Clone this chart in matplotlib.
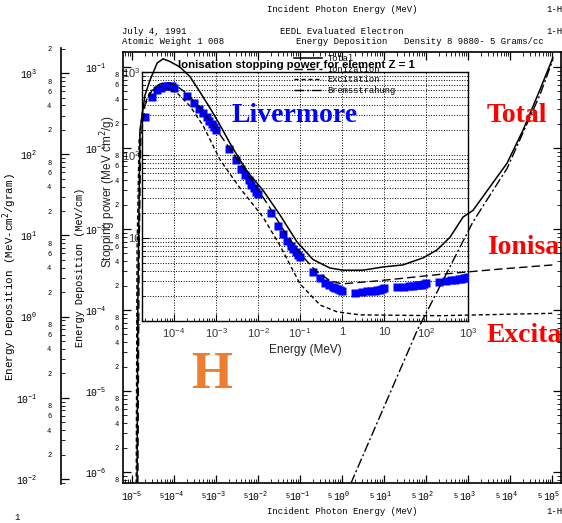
import numpy as np
import matplotlib.pyplot as plt
from matplotlib.ticker import LogLocator, FuncFormatter, NullFormatter

plt.rcParams['font.family'] = 'Liberation Mono'

W, H = 562, 523

# EEDL energy deposition for hydrogen, MeV vs MeV/cm
tot_e = [1.32e-5, 1.38e-5, 1.55e-5, 2.04e-5, 2.69e-5, 3.98e-5, 5.5e-5, 7.94e-5, 1.38e-4,
         2.4e-4, 4.17e-4, 7.24e-4, 1.26e-3, 2.14e-3, 3.72e-3, 5.75e-3, 1.32e-2, 3.31e-2,
         8.51e-2, 0.204, 0.513, 1.05, 3.16, 9.55, 28.2, 85.1, 182, 372, 759, 1318, 3311,
         8511, 20417, 51286, 104713]
tot_v = [7.2e-7, 1.3e-4, 1.66e-2, 4.5e-2, 6.9e-2, 0.112, 0.126, 0.117, 0.1,
         7.6e-2, 4.9e-2, 3.1e-2, 1.9e-2, 1.15e-2, 7.1e-3, 5.0e-3, 3.0e-3, 1.5e-3,
         6.9e-4, 4.2e-4, 3.3e-4, 3.1e-4, 3.1e-4, 3.4e-4, 3.6e-4, 4.4e-4, 5.5e-4, 7.9e-4,
         1.4e-3, 1.7e-3, 3.3e-3, 6.5e-3, 1.66e-2, 5.2e-2, 0.13]

ion_e = [1.38e-5, 1.48e-5, 1.62e-5, 2.04e-5, 3.02e-5, 4.68e-5, 7.24e-5, 1.12e-4, 1.82e-4,
         3.16e-4, 5.5e-4, 9.55e-4, 1.95e-3, 3.72e-3, 8.51e-3, 1.95e-2, 4.37e-2, 0.1,
         0.229, 0.513, 1.0, 7.94, 214, 5754, 104713]
ion_v = [7.2e-7, 5.5e-4, 1.26e-2, 3.4e-2, 5.2e-2, 6.2e-2, 6.3e-2, 5.9e-2, 4.9e-2,
         3.7e-2, 2.6e-2, 1.78e-2, 1.05e-2, 6.5e-3, 3.5e-3, 1.8e-3, 9.1e-4, 5.0e-4,
         3.1e-4, 2.3e-4, 2.1e-4, 2.3e-4, 2.75e-4, 3.2e-4, 3.6e-4]

exc_e = [1.26e-5, 1.32e-5, 1.48e-5, 1.82e-5, 2.69e-5, 3.98e-5, 6.17e-5, 1.17e-4, 2.4e-4,
         4.9e-4, 7.94e-4, 1.26e-3, 3.72e-3, 1.32e-2, 3.31e-2, 0.1, 0.302, 0.759, 2.69,
         214, 104713]
exc_v = [7.2e-7, 5.5e-4, 1.26e-2, 3.1e-2, 4.9e-2, 5.6e-2, 5.6e-2, 4.8e-2, 3.3e-2,
         1.9e-2, 1.15e-2, 7.1e-3, 3.2e-3, 1.4e-3, 6.3e-4, 2.1e-4, 1.15e-4, 9.5e-5, 8.7e-5,
         8.5e-5, 9.1e-5]

brem_e = [1.62, 61.7, 182, 1318, 8511, 51286, 104713]
brem_v = [7.2e-7, 5.6e-5, 1.66e-4, 1.23e-3, 5.6e-3, 4.5e-2, 0.123]

# Livermore ionisation stopping power, MeV vs MeV cm2/g
liv_e = [2e-5, 3e-5, 4e-5, 5e-5, 6e-5, 7e-5, 8e-5, 9e-5,
         1e-4, 2e-4, 3e-4, 4e-4, 5e-4, 6e-4, 7e-4, 8e-4, 9e-4,
         1e-3, 2e-3, 3e-3, 4e-3, 5e-3, 6e-3, 7e-3, 8e-3, 9e-3,
         1e-2, 2e-2, 3e-2, 4e-2, 5e-2, 6e-2, 7e-2, 8e-2, 9e-2,
         0.1, 0.2, 0.3, 0.4, 0.5, 0.6, 0.7, 0.8, 0.9,
         1, 2, 3, 4, 5, 6, 7, 8, 9,
         10, 20, 30, 40, 50, 60, 70, 80, 90,
         100, 200, 300, 400, 500, 600, 700, 800, 900, 1000]
liv_s = [290, 500, 600, 650, 670, 680, 680, 670,
         650, 510, 420, 360, 320, 285, 255, 235, 215,
         200, 118, 88, 68, 57, 50, 44, 40, 36,
         34, 20, 14, 11.2, 9.2, 8.1, 7.3, 6.7, 6.2,
         5.9, 3.9, 3.3, 2.9, 2.7, 2.6, 2.5, 2.4, 2.35,
         2.3, 2.2, 2.23, 2.27, 2.3, 2.33, 2.36, 2.38, 2.4,
         2.5, 2.55, 2.6, 2.63, 2.66, 2.7, 2.72, 2.75, 2.78,
         2.85, 2.95, 3.05, 3.1, 3.15, 3.2, 3.25, 3.28, 3.3, 3.4]


def px_box(left, top, right, bottom):
    return [left / W, 1 - bottom / H, (right - left) / W, (bottom - top) / H]


def decade_label(v, pos):
    return r'$\mathdefault{10^{%d}}$' % round(np.log10(v))


def short_decade_label(v, pos):
    n = round(np.log10(v))
    return {0: '1', 1: '10'}.get(n, r'$\mathdefault{10^{%d}}$' % n)


def digit_label(keep):
    def f(v, pos):
        m = int(round(v / 10 ** np.floor(np.log10(v) + 1e-9)))
        return str(m) if m in keep else ''
    return FuncFormatter(f)


def log_ticks(axis):
    axis.set_major_locator(LogLocator(base=10, numticks=20))
    axis.set_minor_locator(LogLocator(base=10, subs=np.arange(2, 10), numticks=20))


fig = plt.figure(figsize=(W / 100, H / 100), dpi=100)

# second deposition scale (per gram)
axg = fig.add_axes(px_box(61, 48, 71, 484))
axg.set_zorder(1)
axg.patch.set_visible(False)
axg.set_yscale('log')
axg.set_ylim(10 ** -2.062, 10 ** 3.31)
for s in ['top', 'right', 'bottom']:
    axg.spines[s].set_visible(False)
axg.spines['left'].set_linewidth(1.2)
axg.set_xticks([])
log_ticks(axg.yaxis)
axg.yaxis.set_major_formatter(FuncFormatter(decade_label))
axg.yaxis.set_minor_formatter(digit_label({2, 4, 6, 8}))
axg.tick_params(axis='y', which='both', direction='in')
axg.tick_params(axis='y', which='major', length=6, width=0.9, pad=17, labelsize=7)
axg.tick_params(axis='y', which='minor', length=3, width=0.6, pad=7, labelsize=5)

# Geant4 stopping power panel
ins = fig.add_axes(px_box(142, 72, 468, 321))
ins.set_zorder(2)
ins.set_xscale('log')
ins.set_yscale('log')
ins.set_xlim(10 ** -4.762, 1e3)
ins.set_ylim(1, 1e3)
ins.plot(liv_e, liv_s, 's', color='#0000ff', ms=6, mec='none', zorder=3)
log_ticks(ins.xaxis)
log_ticks(ins.yaxis)
ins.xaxis.set_major_formatter(FuncFormatter(short_decade_label))
ins.yaxis.set_major_formatter(FuncFormatter(short_decade_label))
ins.xaxis.set_minor_formatter(NullFormatter())
ins.yaxis.set_minor_formatter(NullFormatter())
ins.grid(True, which='major', axis='x', color='black', ls=':', lw=0.7)
ins.grid(True, which='both', axis='y', color='black', ls=':', lw=0.7)
ins.tick_params(which='both', direction='in', labelsize=8, labelfontfamily='Liberation Sans',
                labelcolor='#333333')
ins.tick_params(which='major', length=5)
ins.tick_params(which='minor', length=2.5)
ins.tick_params(axis='y', pad=1)
ins.tick_params(axis='x', pad=4)
for s in ins.spines.values():
    s.set_linewidth(1.0)

# EEDL deposition plot
ax = fig.add_axes(px_box(123, 52, 561, 483))
ax.set_zorder(3)
ax.patch.set_alpha(0)
ax.set_xscale('log')
ax.set_yscale('log')
ax.set_xlim(10 ** -5.214, 10 ** 5.214)
ax.set_ylim(10 ** -6.136, 10 ** -0.815)
ax.plot(tot_e, tot_v, color='black', lw=1.1, label='Total')
ax.plot(ion_e, ion_v, color='black', lw=1.0, ls=(0, (6, 3)), label='Ionization')
ax.plot(exc_e, exc_v, color='black', lw=1.0, ls=(0, (3, 2)), label='Excitation')
ax.plot(brem_e, brem_v, color='black', lw=1.0, ls=(0, (7, 2, 1.5, 2)), label='Bremsstrahung')
log_ticks(ax.xaxis)
log_ticks(ax.yaxis)
ax.xaxis.set_major_formatter(FuncFormatter(decade_label))
ax.yaxis.set_major_formatter(FuncFormatter(decade_label))
ax.xaxis.set_minor_formatter(digit_label({5}))
ax.yaxis.set_minor_formatter(digit_label({2, 4, 6, 8}))
ax.tick_params(which='both', direction='in', top=True, right=True)
ax.tick_params(which='major', length=6, width=0.9)
ax.tick_params(which='minor', length=3, width=0.6)
ax.tick_params(axis='x', which='major', pad=5, labelsize=7)
ax.tick_params(axis='x', which='minor', pad=7, labelsize=5)
ax.tick_params(axis='y', which='major', pad=12, labelsize=7)
ax.tick_params(axis='y', which='minor', pad=3, labelsize=5)
for s in ax.spines.values():
    s.set_linewidth(1.2)
leg = ax.legend(loc='upper left', bbox_to_anchor=((287 - 123) / 438, 1 + 5 / 431),
                fontsize=6.3, handlelength=3.2, labelspacing=0.2, borderpad=0.3,
                handletextpad=0.6, fancybox=False, framealpha=0, edgecolor='black')
leg.get_frame().set_linewidth(0.9)


def ftext(x, y, s, **kw):
    kw.setdefault('fontsize', 6.4)
    kw.setdefault('va', 'center')
    return fig.text(x / W, 1 - y / H, s, zorder=6, **kw)


# page header and footer
ftext(342, 10, 'Incident Photon Energy (MeV)', ha='center')
ftext(546, 10, '1-H')
ftext(122, 31, 'July 4, 1991')
ftext(122, 42, 'Atomic Weight 1 008')
ftext(342, 31, 'EEDL Evaluated Electron', ha='center')
ftext(342, 42, 'Energy Deposition', ha='center')
ftext(546, 31, '1-H')
ftext(404, 42, 'Density 8 9880- 5 Grams/cc')
ftext(342, 511, 'Incident Photon Energy (MeV)', ha='center')
ftext(546, 511, '1-H')
ftext(17, 517, '1', ha='center')
ftext(10, 277, r'Energy Deposition (MeV-cm$^2$/gram)', ha='center', rotation=90, fontsize=7.8)
ftext(80, 267, 'Energy Deposition (MeV/cm)', ha='center', rotation=90, fontsize=7.4)

# panel labels
ftext(296, 65, 'Ionisation stopping power for element Z = 1', ha='center',
      family='Liberation Sans', weight='bold', fontsize=8.2)
ftext(305, 350, 'Energy (MeV)', ha='center', family='Liberation Sans', fontsize=8.5,
      color='#222222')
ftext(108, 192, r'Stopping power (MeV cm$^2$/g)', ha='center', rotation=90,
      family='Liberation Sans', fontsize=8.5, color='#222222')

serif = dict(family='Liberation Serif', weight='bold', fontsize=20)
ftext(232, 115, 'Livermore', color='#0000ff', **serif)
ftext(487, 116, 'Total', color='#ff0000', **serif)
ftext(487, 248, 'Ionisation', color='#ff0000', **serif)
ftext(487, 335, 'Excitation', color='#ff0000', **serif)
ftext(212, 375, 'H', ha='center', color='#ed7d31', family='Liberation Serif',
      weight='bold', fontsize=38)

fig.savefig('out.png', dpi=100)
